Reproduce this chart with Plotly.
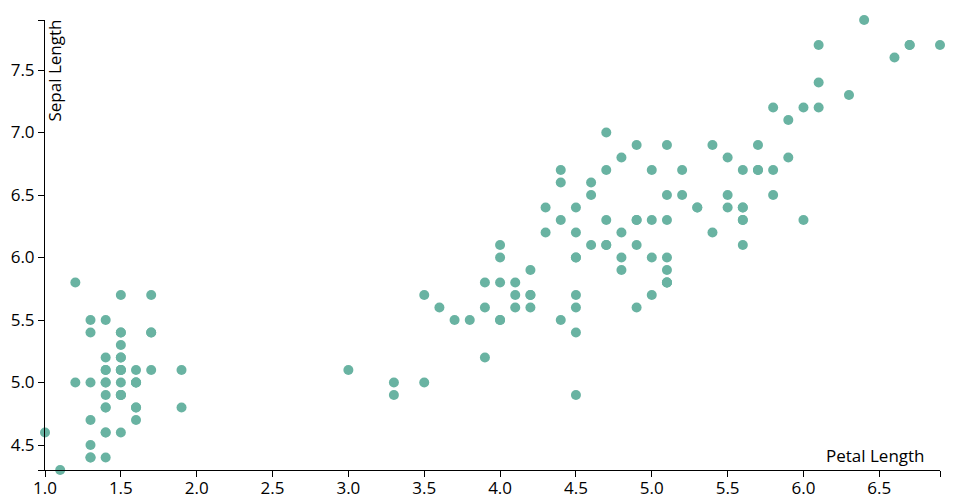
import plotly.graph_objects as go

# Iris dataset: petal length (x) vs sepal length (y)
petal_length = [
    1.4, 1.4, 1.3, 1.5, 1.4, 1.7, 1.4, 1.5, 1.4, 1.5, 1.5, 1.6, 1.4, 1.1, 1.2, 1.5, 1.3, 1.4, 1.7, 1.5,
    1.7, 1.5, 1.0, 1.7, 1.9, 1.6, 1.6, 1.5, 1.4, 1.6, 1.6, 1.5, 1.5, 1.4, 1.5, 1.2, 1.3, 1.5, 1.3, 1.5,
    1.3, 1.3, 1.3, 1.6, 1.9, 1.4, 1.6, 1.4, 1.5, 1.4,
    4.7, 4.5, 4.9, 4.0, 4.6, 4.5, 4.7, 3.3, 4.6, 3.9, 3.5, 4.2, 4.0, 4.7, 3.6, 4.4, 4.5, 4.1, 4.5, 3.9,
    4.8, 4.0, 4.9, 4.7, 4.3, 4.4, 4.8, 5.0, 4.5, 3.5, 3.8, 3.7, 3.9, 5.1, 4.5, 4.5, 4.7, 4.4, 4.1, 4.0,
    4.4, 4.6, 4.0, 3.3, 4.2, 4.2, 4.2, 4.3, 3.0, 4.1,
    6.0, 5.1, 5.9, 5.6, 5.8, 6.6, 4.5, 6.3, 5.8, 6.1, 5.1, 5.3, 5.5, 5.0, 5.1, 5.3, 5.5, 6.7, 6.9, 5.0,
    5.7, 4.9, 6.7, 4.9, 5.7, 6.0, 4.8, 4.9, 5.6, 5.8, 6.1, 6.4, 5.6, 5.1, 5.6, 6.1, 5.6, 5.5, 4.8, 5.4,
    5.6, 5.1, 5.1, 5.9, 5.7, 5.2, 5.0, 5.2, 5.4, 5.1,
]
sepal_length = [
    5.1, 4.9, 4.7, 4.6, 5.0, 5.4, 4.6, 5.0, 4.4, 4.9, 5.4, 4.8, 4.8, 4.3, 5.8, 5.7, 5.4, 5.1, 5.7, 5.1,
    5.4, 5.1, 4.6, 5.1, 4.8, 5.0, 5.0, 5.2, 5.2, 4.7, 4.8, 5.4, 5.2, 5.5, 4.9, 5.0, 5.5, 4.9, 4.4, 5.1,
    5.0, 4.5, 4.4, 5.0, 5.1, 4.8, 5.1, 4.6, 5.3, 5.0,
    7.0, 6.4, 6.9, 5.5, 6.5, 5.7, 6.3, 4.9, 6.6, 5.2, 5.0, 5.9, 6.0, 6.1, 5.6, 6.7, 5.6, 5.8, 6.2, 5.6,
    5.9, 6.1, 6.3, 6.1, 6.4, 6.6, 6.8, 6.7, 6.0, 5.7, 5.5, 5.5, 5.8, 6.0, 5.4, 6.0, 6.7, 6.3, 5.6, 5.5,
    5.5, 6.1, 5.8, 5.0, 5.6, 5.7, 5.7, 6.2, 5.1, 5.7,
    6.3, 5.8, 7.1, 6.3, 6.5, 7.6, 4.9, 7.3, 6.7, 7.2, 6.5, 6.4, 6.8, 5.7, 5.8, 6.4, 6.5, 7.7, 7.7, 6.0,
    6.9, 5.6, 7.7, 6.3, 6.7, 7.2, 6.2, 6.1, 6.4, 7.2, 7.4, 7.9, 6.4, 6.3, 6.1, 7.7, 6.3, 6.4, 6.0, 6.9,
    6.7, 6.9, 5.8, 6.8, 6.7, 6.7, 6.3, 6.5, 6.2, 5.9,
]

x_range = [1.0, 6.9]
y_range = [4.3, 7.9]
x_ticks = [1.0, 1.5, 2.0, 2.5, 3.0, 3.5, 4.0, 4.5, 5.0, 5.5, 6.0, 6.5]
y_ticks = [4.5, 5.0, 5.5, 6.0, 6.5, 7.0, 7.5]

x_tickvals = x_ticks + [x_range[1]]
x_ticktext = [f"{v:.1f}" for v in x_ticks] + [""]
y_tickvals = [y_range[0]] + y_ticks + [y_range[1]]
y_ticktext = [""] + [f"{v:.1f}" for v in y_ticks] + [""]

FONT = "Open Sans"
FS = 17

fig = go.Figure(
    go.Scatter(
        x=petal_length,
        y=sepal_length,
        mode="markers",
        marker=dict(color="#69b3a2", size=10, line=dict(width=0)),
        cliponaxis=False,
        hoverinfo="x+y",
    )
)

axis_common = dict(
    showgrid=False,
    zeroline=False,
    showline=True,
    linecolor="#000000",
    linewidth=1,
    ticks="outside",
    ticklen=6,
    tickwidth=1,
    tickcolor="#000000",
    tickfont=dict(family=FONT, size=FS, color="#000000"),
    tickmode="array",
    automargin=False,
)

fig.update_xaxes(range=x_range, tickvals=x_tickvals, ticktext=x_ticktext,
                 ticklabelstandoff=-3, **axis_common)
fig.update_yaxes(range=y_range, tickvals=y_tickvals, ticktext=y_ticktext, **axis_common)

fig.add_annotation(
    text="Petal Length", xref="paper", yref="paper", x=(927 - 45) / 895, y=0,
    xanchor="right", yanchor="bottom", yshift=1, showarrow=False,
    font=dict(family=FONT, size=FS, color="#000000"),
)
fig.add_annotation(
    text="Sepal Length", xref="paper", yref="paper", x=0, y=1,
    xanchor="left", yanchor="top", xshift=-5, yshift=2, textangle=-90, showarrow=False,
    font=dict(family=FONT, size=FS, color="#000000"),
)

fig.update_layout(
    width=960, height=500,
    margin=dict(l=45, r=20, t=20, b=30, pad=0),
    paper_bgcolor="white", plot_bgcolor="white",
    showlegend=False,
)

fig.write_html(
    "out.html",
    config={"displayModeBar": False},
    post_script="document.body.style.margin='0';document.body.style.overflow='hidden';",
)
